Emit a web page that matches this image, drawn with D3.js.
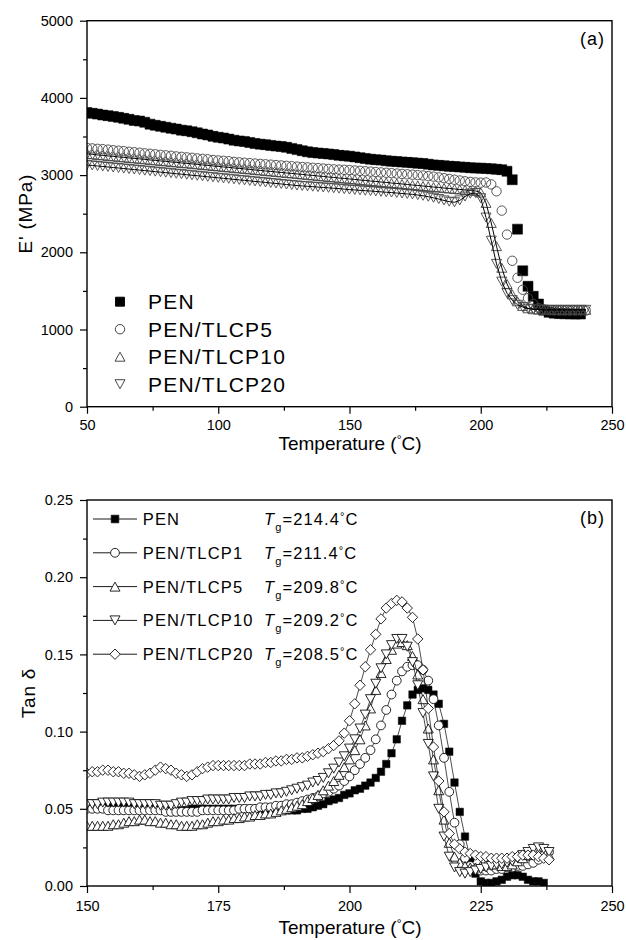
<!DOCTYPE html>
<html><head><meta charset="utf-8">
<script src="https://cdn.jsdelivr.net/npm/d3@7"></script>
<style>
body{margin:0;background:#fff}
svg{display:block}
text{font-family:Arial,"Liberation Sans",Helvetica,sans-serif;fill:#000}
</style>
</head><body>
<svg id="c" width="626" height="940"></svg>
<script>
// ---------- Panel (a): storage modulus ----------
const tempsA = [50,52,54,56,58,60,62,64,66,68,70,72,74,76,78,80,82,84,86,88,90,92,94,96,98,100,102,104,106,108,110,112,114,116,118,120,122,124,126,128,130,132,134,136,138,140,142,144,146,148,150,152,154,156,158,160,162,164,166,168,170,172,174,176,178,180,182,184,186,188,190,192,194,196,198,200,202,204,206,208,210,212,214,216,218,220,222,224,226,228,230,232,234,236,238,240];
const ePEN = [3810,3800,3790,3778,3770,3760,3748,3735,3722,3708,
3700,3684,3660,3645,3632,3620,3607,3596,3582,3574,
3562,3548,3532,3520,3502,3490,3480,3466,3452,3442,
3436,3422,3410,3401,3394,3385,3376,3370,3360,3346,
3330,3316,3302,3292,3286,3280,3274,3266,3256,3250,
3245,3236,3226,3216,3206,3200,3194,3186,3180,3175,
3170,3165,3160,3155,3150,3141,3132,3126,3120,3115,
3110,3106,3101,3096,3091,3090,3086,3081,3076,3070,
3050,2940,2300,1760,1560,1430,1330,1250,1222,1212,
1206,1204,1202,1200,1200,null];
const eTLCP5 = [3352,3346,3340,3336,3330,3322,3316,3310,3302,3296,
3290,3282,3276,3270,3262,3256,3250,3242,3236,3230,
3224,3216,3210,3205,3196,3190,3185,3180,3171,3165,
3160,3155,3150,3145,3140,3135,3130,3125,3120,3115,
3110,3105,3100,3095,3090,3085,3080,3075,3071,3068,
3065,3060,3055,3050,3045,3040,3035,3030,3025,3020,
3015,3010,3005,3000,2995,2986,2980,2970,2960,2950,
2940,2930,2920,2912,2906,2902,2904,2880,2790,2540,
2230,1890,1670,1515,1405,1330,1280,1260,1250,1246,
1245,1245,1245,1245,1245,1245];
const eTLCP10 = [3275,3270,3261,3256,3248,3243,3235,3230,3222,3217,
3210,3204,3196,3191,3183,3178,3170,3165,3157,3152,
3145,3139,3131,3126,3118,3113,3105,3100,3092,3087,
3080,3074,3066,3061,3053,3048,3040,3035,3027,3022,
3015,3009,3001,2996,2988,2983,2975,2970,2962,2957,
2950,2944,2936,2931,2923,2918,2910,2905,2897,2892,
2885,2879,2871,2866,2858,2853,2845,2840,2832,2827,
2820,2814,2808,2802,2795,2775,2640,2380,2080,1800,
1590,1455,1365,1305,1275,1262,1258,1255,1255,1255,
1255,1255,1255,1255,1255,1255];
const eTLCP20 = [3130,3125,3118,3112,3105,3098,3092,3085,3078,3072,
3065,3058,3052,3045,3038,3032,3025,3018,3012,3005,
2998,2992,2985,2978,2972,2965,2958,2952,2945,2938,
2932,2925,2918,2912,2905,2898,2892,2885,2878,2872,
2865,2860,2855,2850,2845,2840,2835,2830,2825,2818,
2812,2808,2803,2798,2794,2788,2783,2778,2774,2768,
2762,2756,2750,2742,2732,2720,2706,2690,2672,2656,
2648,2672,2722,2760,2768,2700,2450,2150,1850,1620,
1470,1380,1320,1290,1270,1262,1258,1255,1255,1255,
1255,1255,1255,1255,1255,1255];
const xTicksA = [50,100,150,200,250];
const xMinorA = [75,125,175,225];
const yTicksA = [0,1000,2000,3000,4000,5000];
const yMinorA = [500,1500,2500,3500,4500];
const legendA = ["PEN","PEN/TLCP5","PEN/TLCP10","PEN/TLCP20"];

// ---------- Panel (b): tan delta ----------
const tempsB = [150,151,152,153,154,155,156,157,158,159,160,161,162,163,164,165,166,167,168,169,170,171,172,173,174,175,176,177,178,179,180,181,182,183,184,185,186,187,188,189,190,191,192,193,194,195,196,197,198,199,200,201,202,203,204,205,206,207,208,209,210,211,212,213,214,215,216,217,218,219,220,221,222,223,224,225,226,227,228,229,230,231,232,233,234,235,236,237,238,239,240];
const tPEN = [0.053,0.052,0.052,0.052,0.051,0.051,0.051,0.051,0.051,0.051,
0.051,0.051,0.051,0.050,0.050,0.049,0.048,0.048,0.049,0.049,
0.050,0.050,0.050,0.050,0.050,0.050,0.050,0.050,0.050,0.050,
0.050,0.050,0.050,0.050,0.050,0.050,0.050,0.050,0.049,0.049,
0.049,0.050,0.050,0.051,0.052,0.053,0.055,0.056,0.057,0.059,
0.060,0.062,0.063,0.065,0.067,0.070,0.074,0.079,0.086,0.095,
0.107,0.117,0.124,0.127,0.128,0.127,0.124,0.118,0.105,0.087,
0.067,0.048,0.032,0.018,0.008,0.003,0.002,0.002,0.003,0.004,
0.006,0.007,0.007,0.006,0.004,0.003,0.003,0.002,null,null,null];
const tTLCP1 = [0.050,0.050,0.050,0.050,0.049,0.049,0.049,0.049,0.049,0.049,
0.049,0.049,0.049,0.049,0.049,0.048,0.048,0.048,0.048,0.048,
0.048,0.048,0.049,0.049,0.049,0.049,0.049,0.049,0.049,0.050,
0.050,0.050,0.050,0.051,0.051,0.051,0.052,0.052,0.053,0.053,
0.054,0.055,0.056,0.057,0.058,0.060,0.061,0.063,0.065,0.068,
0.071,0.075,0.079,0.083,0.088,0.095,0.104,0.114,0.124,0.133,
0.139,0.142,0.143,0.143,0.140,0.133,0.121,0.104,0.083,0.061,
0.041,0.027,0.018,0.013,0.011,0.010,0.010,0.010,0.011,0.011,
0.012,0.012,0.013,0.013,0.014,0.015,0.017,0.020,0.022,null,null];
const tTLCP5 = [0.039,0.039,0.039,0.039,0.039,0.040,0.040,0.041,0.042,0.042,
0.043,0.043,0.042,0.042,0.041,0.041,0.040,0.040,0.039,0.039,
0.039,0.040,0.040,0.041,0.042,0.042,0.043,0.043,0.044,0.044,
0.045,0.045,0.046,0.046,0.047,0.047,0.048,0.049,0.050,0.051,
0.052,0.053,0.055,0.057,0.059,0.062,0.065,0.068,0.072,0.077,
0.082,0.088,0.095,0.104,0.115,0.127,0.138,0.147,0.153,0.157,
0.158,0.156,0.149,0.137,0.121,0.102,0.082,0.062,0.043,0.028,
0.019,0.015,0.013,0.012,0.012,0.013,0.014,0.014,0.014,0.013,
0.013,0.014,0.016,0.018,0.020,0.021,0.022,0.022,0.020,null,null];
const tTLCP10 = [0.053,0.053,0.053,0.054,0.054,0.054,0.054,0.054,0.054,0.053,
0.053,0.053,0.053,0.053,0.052,0.052,0.052,0.053,0.054,0.054,
0.055,0.055,0.055,0.056,0.056,0.056,0.056,0.056,0.057,0.057,
0.057,0.058,0.058,0.058,0.059,0.059,0.060,0.060,0.061,0.062,
0.063,0.064,0.065,0.067,0.068,0.070,0.073,0.076,0.080,0.084,
0.089,0.095,0.102,0.111,0.121,0.131,0.141,0.150,0.156,0.160,
0.160,0.155,0.145,0.130,0.112,0.092,0.071,0.050,0.032,0.019,
0.012,0.009,0.008,0.009,0.010,0.011,0.012,0.013,0.014,0.014,
0.015,0.016,0.018,0.020,0.022,0.024,0.025,0.024,0.022,null,null];
const tTLCP20 = [0.073,0.074,0.074,0.075,0.075,0.074,0.074,0.073,0.073,0.072,
0.071,0.072,0.073,0.075,0.077,0.076,0.075,0.073,0.072,0.071,
0.072,0.074,0.076,0.077,0.078,0.078,0.078,0.078,0.078,0.078,
0.078,0.079,0.079,0.079,0.080,0.080,0.081,0.081,0.082,0.082,
0.083,0.083,0.084,0.085,0.086,0.087,0.089,0.091,0.094,0.099,
0.107,0.118,0.130,0.142,0.153,0.163,0.173,0.180,0.183,0.185,
0.184,0.180,0.174,0.160,0.140,0.115,0.090,0.068,0.048,0.034,
0.027,0.024,0.022,0.021,0.020,0.019,0.019,0.018,0.018,0.018,
0.018,0.019,0.019,0.020,0.020,0.020,0.019,0.018,0.017,null,null];
const xTicksB = [150,175,200,225,250];
const xMinorB = [162.5,187.5,212.5,237.5];
const yTicksB = [0,0.05,0.10,0.15,0.20,0.25];
const yMinorB = [0.025,0.075,0.125,0.175,0.225];
const legendB = ["PEN","PEN/TLCP1","PEN/TLCP5","PEN/TLCP10","PEN/TLCP20"];
const tgB = ["214.4","211.4","209.8","209.2","208.5"];

// ---------- shapes ----------
function sq(s){const h=s/2;return `M${-h},${-h}h${s}v${s}h${-s}Z`;}
function circ(r){return `M${r},0A${r},${r} 0 1,1 ${-r},0A${r},${r} 0 1,1 ${r},0Z`;}
function triUp(w,h){return `M0,${-h/2}L${w/2},${h/2}L${-w/2},${h/2}Z`;}
function triDn(w,h){return `M0,${h/2}L${w/2},${-h/2}L${-w/2},${-h/2}Z`;}
function diam(r){return `M0,${-r}L${r},0L0,${r}L${-r},0Z`;}

const svg = d3.select('#c');
const L = 87, R = 612;

function drawAxes(x, y, top, bottom, xMaj, xMin, yMaj, yMin, yFmt, xPad){
  const ga = svg.append('g');
  const gx = ga.append('g').attr('transform',`translate(0,${bottom})`)
    .call(d3.axisBottom(x).tickValues(xMaj).tickSize(7).tickSizeOuter(0).tickPadding(xPad).tickFormat(d3.format('d')));
  gx.select('.domain').remove();
  const gx2 = ga.append('g').attr('transform',`translate(0,${bottom})`)
    .call(d3.axisBottom(x).tickValues(xMin).tickSize(4).tickFormat(''));
  gx2.select('.domain').remove();
  const gy = ga.append('g').attr('transform',`translate(${L},0)`)
    .call(d3.axisLeft(y).tickValues(yMaj).tickSize(7).tickSizeOuter(0).tickPadding(7).tickFormat(yFmt));
  gy.select('.domain').remove();
  const gy2 = ga.append('g').attr('transform',`translate(${L},0)`)
    .call(d3.axisLeft(y).tickValues(yMin).tickSize(4).tickFormat(''));
  gy2.select('.domain').remove();
  ga.selectAll('.tick line').attr('stroke','#000').attr('stroke-width',1.2);
  ga.selectAll('text').attr('font-family','Arial, "Liberation Sans", sans-serif').attr('font-size',14.5).attr('fill','#000');
  ga.selectAll('g').attr('font-family',null).attr('font-size',null);
  svg.append('rect').attr('x',L).attr('y',top).attr('width',R-L).attr('height',bottom-top)
    .attr('fill','none').attr('stroke','#000').attr('stroke-width',1.4);
}

function drawSeries(g, temps, vals, x, y, shape, o){
  const pts = temps.map((t,i)=>[t,vals[i]]).filter(d=>d[1]!=null);
  if(o.lineUnder){
    g.append('path').attr('d',d3.line().x(d=>x(d[0])).y(d=>y(d[1]))(pts))
      .attr('fill','none').attr('stroke',o.lineUnder).attr('stroke-width',o.lw||0.8);
  }
  g.append('g').selectAll('path').data(pts).join('path')
    .attr('transform',d=>`translate(${x(d[0])},${y(d[1])})`)
    .attr('d',shape).attr('fill',o.fill).attr('stroke',o.stroke).attr('stroke-width',o.sw);
  if(o.lineOver){
    g.append('path').attr('d',d3.line().x(d=>x(d[0])).y(d=>y(d[1]))(pts))
      .attr('fill','none').attr('stroke',o.lineOver).attr('stroke-width',o.lw||0.8);
  }
}

// ===== Panel (a) =====
const topA = 20.7, botA = 406.7;
const xA = d3.scaleLinear().domain([50,250]).range([L,R]);
const yA = d3.scaleLinear().domain([0,5000]).range([botA,topA]);
svg.append('clipPath').attr('id','clipA').append('rect').attr('x',L).attr('y',topA).attr('width',R-L).attr('height',botA-topA);
const gA = svg.append('g').attr('clip-path','url(#clipA)');
const shapesA = [sq(9), circ(4.7), triUp(10,9), triDn(10,9)];
drawSeries(gA, tempsA, ePEN, xA, yA, sq(10), {fill:'#000',stroke:'#000',sw:0.5});
drawSeries(gA, tempsA, eTLCP5, xA, yA, shapesA[1], {fill:'none',stroke:'#444',sw:0.9});
drawSeries(gA, tempsA, eTLCP10, xA, yA, shapesA[2], {fill:'none',stroke:'#444',sw:0.9,lineOver:'#000',lw:1});
drawSeries(gA, tempsA, eTLCP20, xA, yA, shapesA[3], {fill:'none',stroke:'#444',sw:0.9,lineOver:'#000',lw:1});
drawAxes(xA, yA, topA, botA, xTicksA, xMinorA, yTicksA, yMinorA, d3.format('d'), 6);

// legend a
const legA = svg.append('g');
legendA.forEach((name,i)=>{
  const cy = 301.7 + i*27.5;
  legA.append('path').attr('transform',`translate(120,${cy})`).attr('d',shapesA[i])
    .attr('fill', i===0?'#000':'none').attr('stroke', i===0?'#000':'#333').attr('stroke-width',0.9);
  legA.append('text').attr('x',148).attr('y',cy+7.5).attr('font-size',21).attr('letter-spacing',1.2).text(name);
});
svg.append('text').attr('x',580).attr('y',44.5).attr('font-size',18).attr('letter-spacing',1).text('(a)');
// axis titles a
const tA = svg.append('text').attr('x',350).attr('y',450).attr('text-anchor','middle').attr('font-size',19);
tA.append('tspan').text('Temperature (');
tA.append('tspan').attr('font-size',12).attr('dy',-6).text('°');
tA.append('tspan').attr('dy',6).text('C)');
svg.append('text').attr('transform',`translate(32,${(topA+botA)/2}) rotate(-90)`).attr('text-anchor','middle')
  .attr('font-size',19).attr('letter-spacing',0.8).text("E' (MPa)");

// ===== Panel (b) =====
const topB = 500, botB = 886;
const xB = d3.scaleLinear().domain([150,250]).range([L,R]);
const yB = d3.scaleLinear().domain([0,0.25]).range([botB,topB]);
svg.append('clipPath').attr('id','clipB').append('rect').attr('x',L).attr('y',topB).attr('width',R-L).attr('height',botB-topB);
const gB = svg.append('g').attr('clip-path','url(#clipB)');
const shapesB = [sq(7.5), circ(4.4), triUp(10,9), triDn(10,9), diam(5.2)];
const seriesB = [tPEN, tTLCP1, tTLCP5, tTLCP10, tTLCP20];
seriesB.forEach((vals,i)=>{
  drawSeries(gB, tempsB, vals, xB, yB, shapesB[i],
    {fill: i===0?'#000':'#fff', stroke:'#111', sw: i===0?0.5:0.9, lineUnder:'#000', lw:0.7});
});
drawAxes(xB, yB, topB, botB, xTicksB, xMinorB, yTicksB, yMinorB, d3.format('.2f'), 8);

// legend b
const legB = svg.append('g');
legendB.forEach((name,i)=>{
  const cy = 519 + i*33.8;
  legB.append('line').attr('x1',93).attr('x2',137).attr('y1',cy).attr('y2',cy).attr('stroke','#000').attr('stroke-width',0.9);
  legB.append('path').attr('transform',`translate(115,${cy})`).attr('d',shapesB[i])
    .attr('fill', i===0?'#000':'#fff').attr('stroke','#111').attr('stroke-width',0.9);
  legB.append('text').attr('x',142.7).attr('y',cy+5.9).attr('font-size',16.5).attr('letter-spacing',1.2).text(name);
  const tg = legB.append('text').attr('x',264).attr('y',cy+5.9).attr('font-size',16.5).attr('letter-spacing',1.1);
  tg.append('tspan').attr('font-style','italic').text('T');
  tg.append('tspan').attr('font-size',11).attr('dy',6).text('g');
  tg.append('tspan').attr('dy',-6).text('=' + tgB[i]);
  tg.append('tspan').attr('font-size',11).attr('dy',-5).text('°');
  tg.append('tspan').attr('dy',5).text('C');
});
svg.append('text').attr('x',580).attr('y',524).attr('font-size',18).attr('letter-spacing',1).text('(b)');
const tB = svg.append('text').attr('x',350).attr('y',934).attr('text-anchor','middle').attr('font-size',19);
tB.append('tspan').text('Temperature (');
tB.append('tspan').attr('font-size',12).attr('dy',-6).text('°');
tB.append('tspan').attr('dy',6).text('C)');
svg.append('text').attr('transform',`translate(35,${(topB+botB)/2}) rotate(-90)`).attr('text-anchor','middle')
  .attr('font-size',19).attr('letter-spacing',0.8).text('Tan δ');
</script>
</body></html>
